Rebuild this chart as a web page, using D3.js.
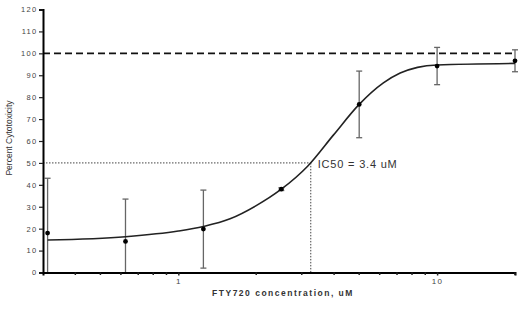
<!DOCTYPE html>
<html><head><meta charset="utf-8">
<script src="https://cdn.jsdelivr.net/npm/d3@7"></script>
<style>
html,body{margin:0;padding:0;background:#fff;}
svg{display:block;}
text{font-family:"Liberation Sans",Arial,sans-serif;}
</style></head>
<body>
<svg id="chart" width="520" height="309"></svg>
<script>
// Data points (concentration uM, mean % cytotoxicity, error)
const conc = [0.3125, 0.625, 1.25, 2.5, 5, 10, 20];
const meanVal = [18, 14.2, 19.8, 38, 76.7, 94.2, 96.6];
const errVal = [25, 19.3, 17.8, 0.6, 15.2, 8.5, 5];
// Fitted curve
const curveX = [0.3125, 0.625, 1.0, 1.25, 1.585, 2.0, 2.5, 3.16, 3.98, 5, 6.2, 7.2, 8.4, 10, 20];
const curveY = [14.8, 16.3, 18.9, 21, 24.5, 30.5, 38, 48.5, 62.8, 76.7, 86.5, 91, 93.6, 94.7, 95.4];
// Reference lines
const topLine = 100;
const halfLine = 50;
const ic50Pos = 3.25;
const ic50Label = "IC50 = 3.4 uM";
// Axes
const yTicks = [0,10,20,30,40,50,60,70,80,90,100,110,120];
const xMajor = [1, 10];
const xMinor = [0.4,0.5,0.6,0.7,0.8,0.9,2,3,4,5,6,7,8,9,20];
const xTitle = "FTY720 concentration, uM";
const yTitle = "Percent Cytotoxicity";

const svg = d3.select("#chart");
const x = d3.scaleLog().domain([0.3, 20]).range([43, 515]);
const y = d3.scaleLinear().domain([0, 120]).range([272.5, 9.5]);

// reference lines
svg.append("line").attr("x1", x(0.3)).attr("x2", x(20)).attr("y1", y(topLine)).attr("y2", y(topLine))
  .attr("stroke", "#111").attr("stroke-width", 1.6).attr("stroke-dasharray", "7,4");
svg.append("line").attr("x1", x(0.3)).attr("x2", x(ic50Pos)).attr("y1", y(halfLine)).attr("y2", y(halfLine))
  .attr("stroke", "#444").attr("stroke-width", 1).attr("stroke-dasharray", "1.5,1.5");
svg.append("line").attr("x1", x(ic50Pos)).attr("x2", x(ic50Pos)).attr("y1", y(halfLine)).attr("y2", y(0))
  .attr("stroke", "#444").attr("stroke-width", 1).attr("stroke-dasharray", "1.5,1.5");

// error bars
const eb = svg.append("g").attr("stroke", "#666").attr("stroke-width", 1.3);
conc.forEach((c, i) => {
  const lo = Math.max(0, meanVal[i] - errVal[i]);
  const hi = meanVal[i] + errVal[i];
  const cx = x(c);
  eb.append("line").attr("x1", cx).attr("x2", cx).attr("y1", y(lo)).attr("y2", y(hi));
  eb.append("line").attr("x1", cx - 3).attr("x2", cx + 3).attr("y1", y(hi)).attr("y2", y(hi));
  if (meanVal[i] - errVal[i] > 0)
    eb.append("line").attr("x1", cx - 3).attr("x2", cx + 3).attr("y1", y(lo)).attr("y2", y(lo));
});

// curve
const line = d3.line().x(d => x(d[0])).y(d => y(d[1])).curve(d3.curveMonotoneX);
svg.append("path").datum(curveX.map((c, i) => [c, curveY[i]]))
  .attr("d", line).attr("fill", "none").attr("stroke", "#222").attr("stroke-width", 1.6);

// points
svg.append("g").selectAll("circle").data(conc).join("circle")
  .attr("cx", d => x(d)).attr("cy", (d, i) => y(meanVal[i])).attr("r", 2.4).attr("fill", "#000");

// y axis
const yAxis = d3.axisLeft(y).tickValues(yTicks).tickSize(4).tickPadding(1.5);
const gy = svg.append("g").attr("transform", `translate(${x(0.3)},0)`).call(yAxis);
gy.select(".domain").attr("stroke", "#000").attr("stroke-width", 2);
gy.selectAll(".tick line").attr("stroke", "#222").attr("stroke-width", 1.2);
gy.selectAll(".tick text").attr("font-size", 7.5).attr("fill", "#444").attr("letter-spacing", 1.3);

// x axis
const xAxis = d3.axisBottom(x).tickValues(xMajor).tickFormat(d3.format("d")).tickSize(3).tickPadding(3);
const gx = svg.append("g").attr("transform", `translate(0,${y(0)})`).call(xAxis);
gx.select(".domain").attr("stroke", "#000").attr("stroke-width", 2);
gx.selectAll(".tick line").attr("stroke", "#222").attr("stroke-width", 1.5);
gx.selectAll(".tick text").attr("font-size", 8).attr("fill", "#444").attr("letter-spacing", 1.3);
gx.selectAll(".minor").data(xMinor).join("line").attr("class", "minor")
  .attr("x1", d => x(d)).attr("x2", d => x(d)).attr("y1", 0).attr("y2", 2.5)
  .attr("stroke", "#222").attr("stroke-width", 1.5);

// IC50 label
svg.append("text").attr("x", x(ic50Pos) + 7).attr("y", y(halfLine) + 5)
  .attr("font-size", 11).attr("fill", "#333").attr("letter-spacing", 0.8).text(ic50Label);

// titles
svg.append("text").attr("x", 283).attr("y", 296).attr("text-anchor", "middle")
  .attr("font-size", 8.5).attr("font-weight", "bold").attr("fill", "#333").attr("letter-spacing", 1.5).text(xTitle);
svg.append("text").attr("transform", "translate(12,138) rotate(-90)").attr("text-anchor", "middle")
  .attr("font-size", 8.5).attr("fill", "#333").text(yTitle);
</script>
</body></html>
